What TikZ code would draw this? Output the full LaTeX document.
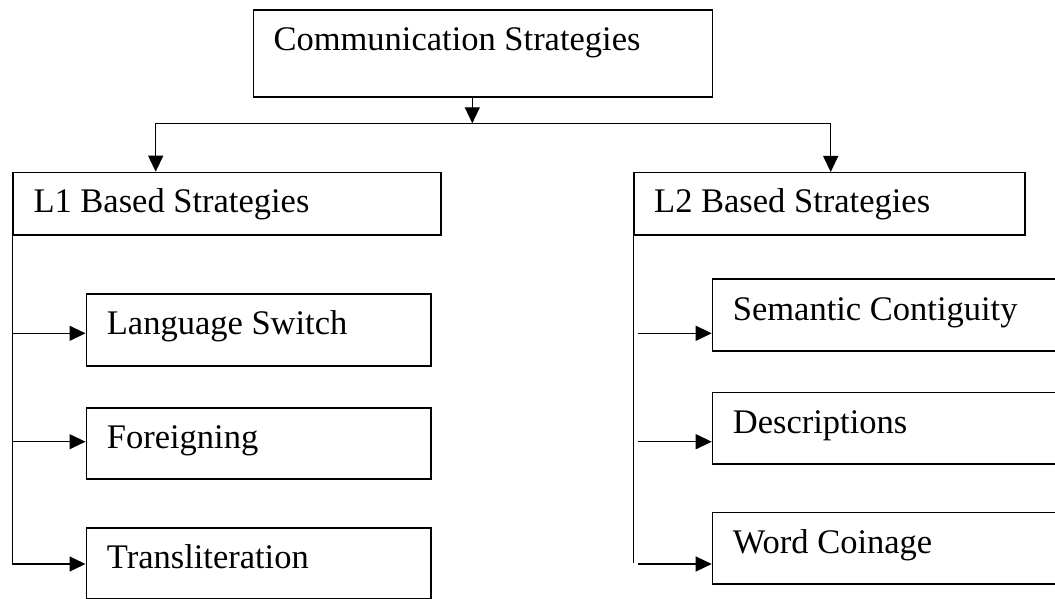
\documentclass[tikz,border=0pt]{standalone}
\usepackage{fontspec}
\setmainfont{Liberation Serif}
\usetikzlibrary{arrows.meta,calc}
\begin{document}
\begin{tikzpicture}[x=1pt,y=-1pt,
  box/.style={draw, line width=1.5pt, rectangle, anchor=north west, inner sep=0pt},
  lbl/.style={anchor=base west, inner sep=0pt, font=\fontsize{34.5}{40}\selectfont},
  conn/.style={line width=1.3pt},
  arr/.style={line width=1.3pt, -{Triangle[length=16pt,width=15pt]}}]
\useasboundingbox (0,0) rectangle (1055,599);
\clip (0,0) rectangle (1055,599);
% boxes
\node[box, minimum width=459pt, minimum height=87.2pt] (cs) at (252.7,9.3) {};
\node[box, minimum width=427.7pt, minimum height=62.3pt] (l1) at (12.3,171.7) {};
\node[box, minimum width=391pt, minimum height=62pt] (l2) at (633.3,172) {};
\node[box, minimum width=344.5pt, minimum height=71.7pt] (ls) at (85.5,293.3) {};
\node[box, minimum width=344.5pt, minimum height=71pt] (fo) at (85.5,407) {};
\node[box, minimum width=344.5pt, minimum height=70.5pt] (tr) at (85.5,527) {};
\node[box, minimum width=360pt, minimum height=71.7pt] (sc) at (711.7,278.3) {};
\node[box, minimum width=360pt, minimum height=71.6pt] (de) at (711.7,391.7) {};
\node[box, minimum width=360pt, minimum height=71.6pt] (wc) at (711.7,511.7) {};
% labels
\node[lbl] at ($(cs.north west)+(20.6,41.7)$) {Communication Strategies};
\node[lbl] at ($(l1.north west)+(21,41)$) {L1 Based Strategies};
\node[lbl] at ($(l2.north west)+(20.7,40.7)$) {L2 Based Strategies};
\node[lbl] at ($(ls.north west)+(21.2,40.7)$) {Language Switch};
\node[lbl] at ($(fo.north west)+(21.2,41.3)$) {Foreigning};
\node[lbl] at ($(tr.north west)+(21.2,41.3)$) {Transliteration};
\node[lbl] at ($(sc.north west)+(21,41.7)$) {Semantic Contiguity};
\node[lbl] at ($(de.north west)+(21,41.7)$) {Descriptions};
\node[lbl] at ($(wc.north west)+(21,41.6)$) {Word Coinage};
% top connectors
\coordinate (hub) at (472.3,123.3);
\coordinate (hl) at (155.7,123.3);
\coordinate (hr) at (830.7,123.3);
\draw[arr] (cs.south -| hub) -- (hub);
\draw[conn] (hl) -- (hr);
\draw[arr] (hl) -- (hl |- l1.north);
\draw[arr] (hr) -- (hr |- l2.north);
% left trunk
\coordinate (la) at (12.3,333.3);
\coordinate (lb) at (12.3,441.7);
\coordinate (lc) at (12.3,564);
\draw[conn] (l1.south west) -- (lc);
\draw[arr] (la) -- (la -| ls.west);
\draw[arr] (lb) -- (lb -| fo.west);
\draw[arr] (lc) -- (lc -| tr.west);
% right trunk
\coordinate (rend) at (633.3,563);
\coordinate (ra) at (638,333.3);
\coordinate (rb) at (638,441.7);
\coordinate (rc) at (638,564);
\draw[conn] (l2.south west) -- (rend);
\draw[arr] (ra) -- (ra -| sc.west);
\draw[arr] (rb) -- (rb -| de.west);
\draw[arr] (rc) -- (rc -| wc.west);
\end{tikzpicture}
\end{document}
